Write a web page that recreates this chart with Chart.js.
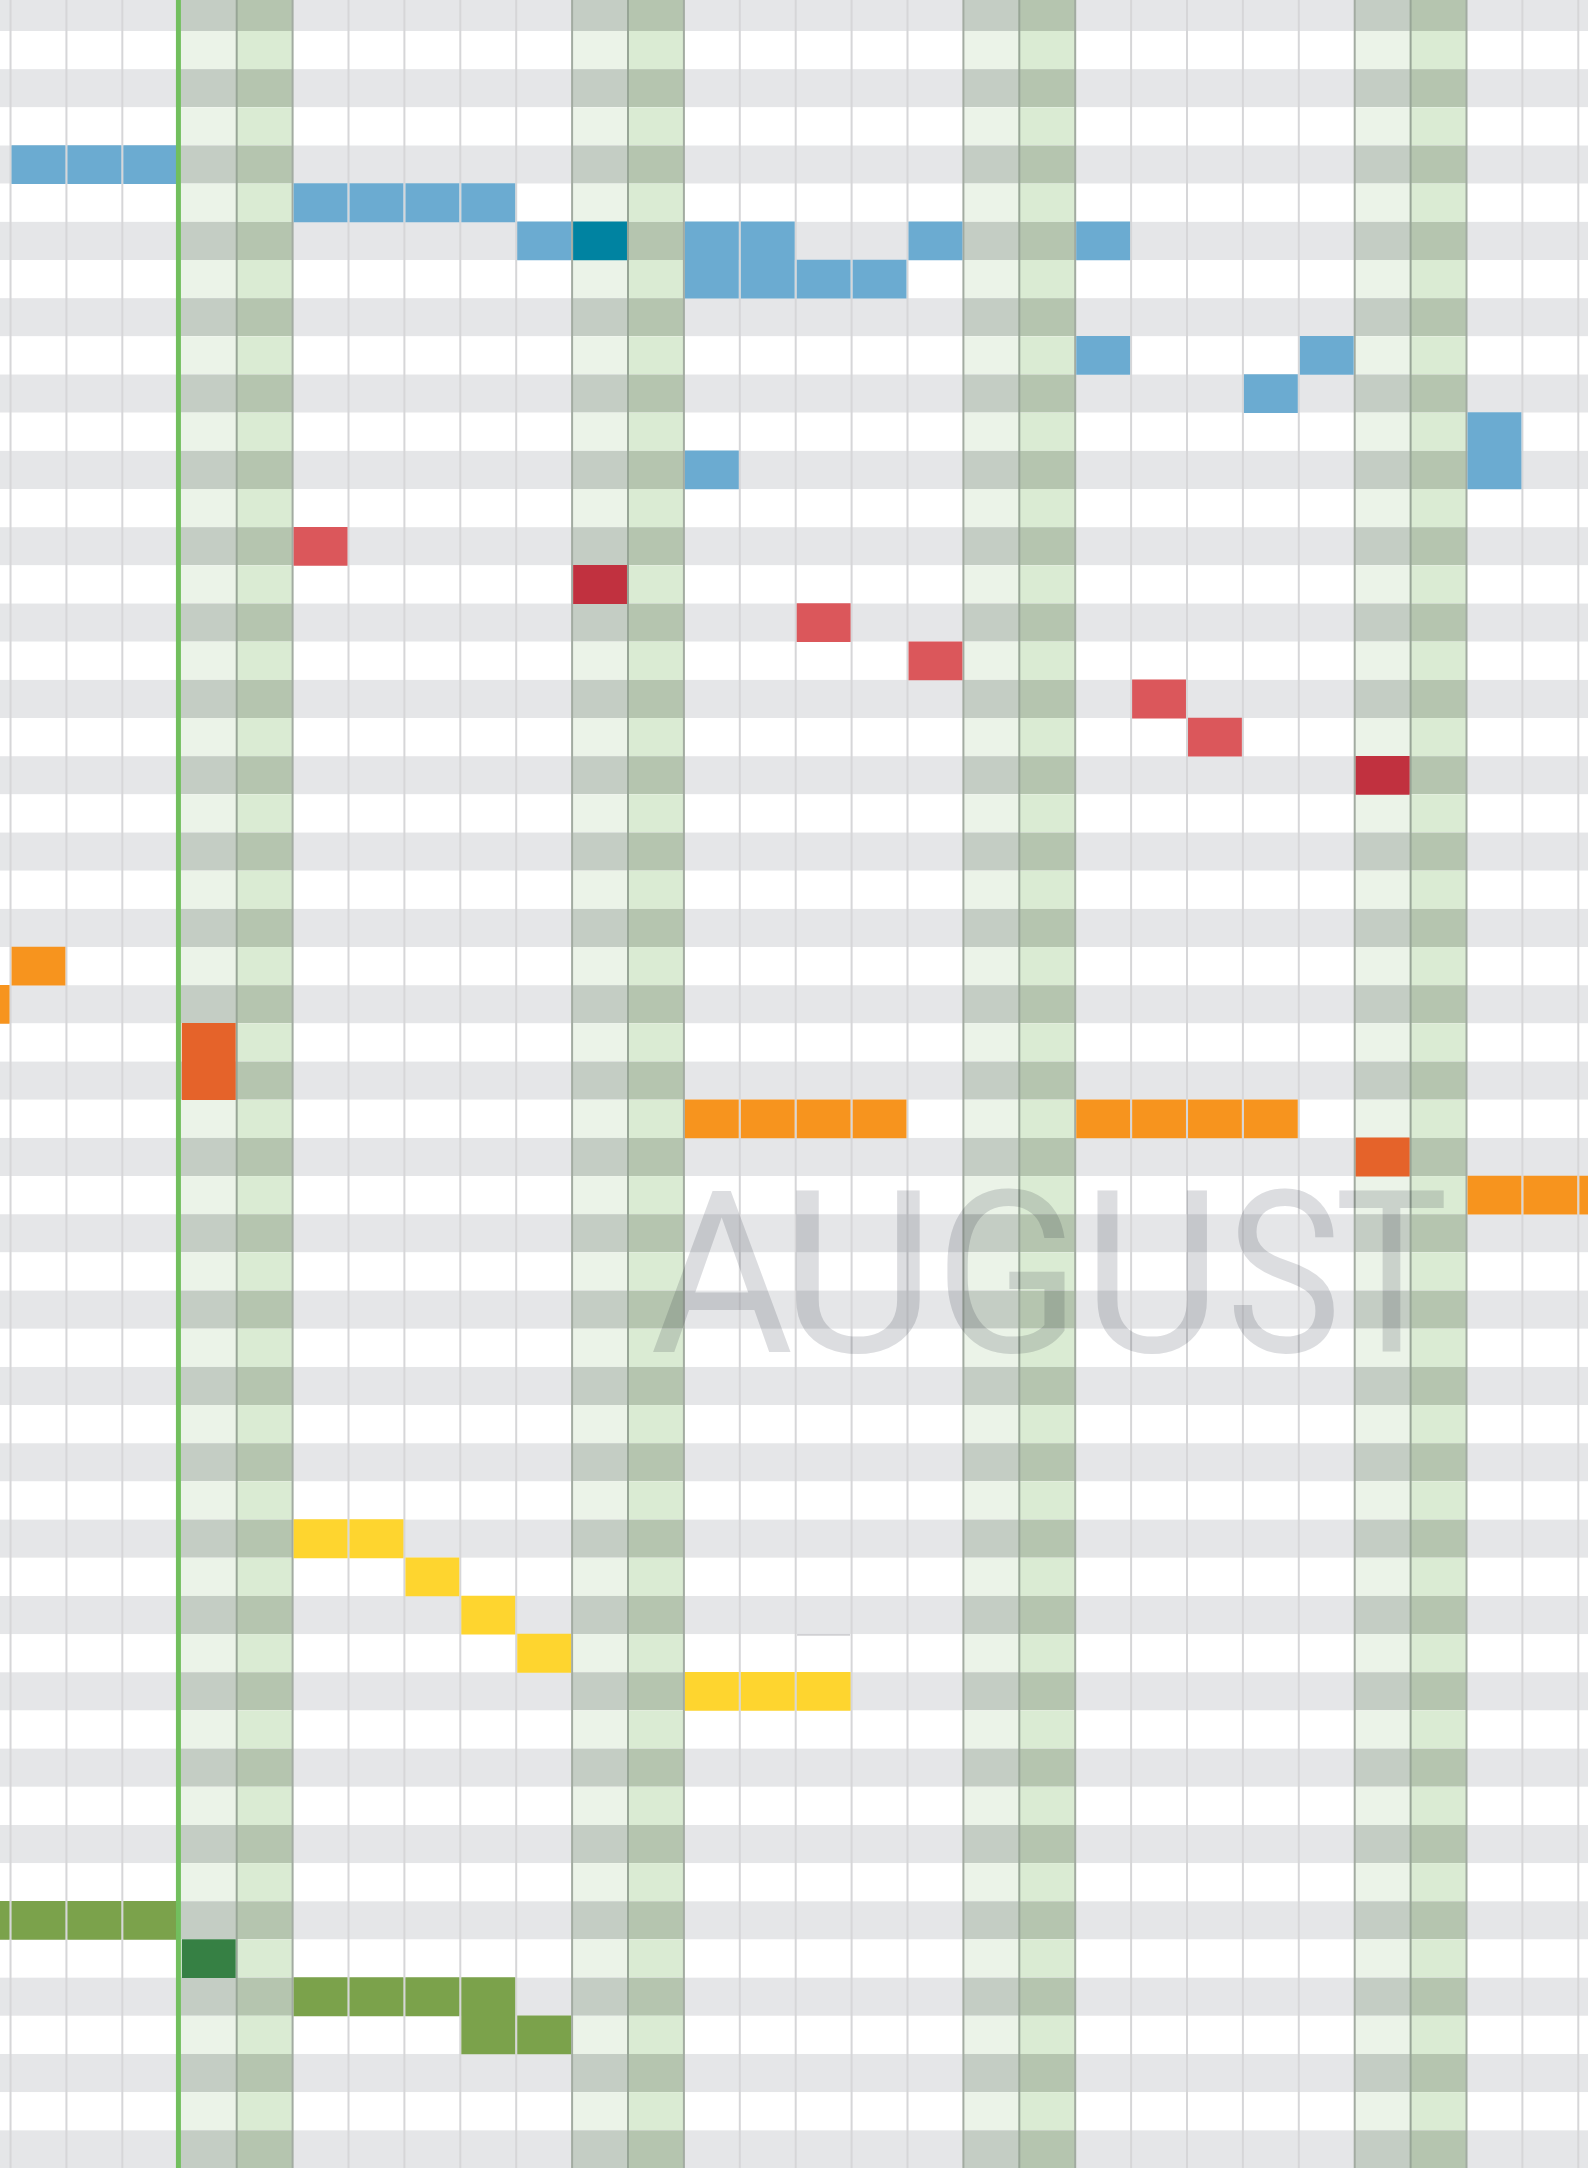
<!DOCTYPE html>
<html>
<head>
<meta charset="utf-8">
<title>August</title>
<script src="https://cdn.jsdelivr.net/npm/chart.js@4.4.1/dist/chart.umd.min.js"></script>
<style>
html, body { margin: 0; padding: 0; background: #fff; }
#wrap { width: 1588px; height: 2168px; }
</style>
</head>
<body>
<div id="wrap"><canvas id="grafico" width="1588" height="2168"></canvas></div>
<script>
// Columnas: un dia cada una
const days = ['Jul 28', 'Jul 29', 'Jul 30', 'Jul 31', 'Aug 1', 'Aug 2', 'Aug 3', 'Aug 4', 'Aug 5', 'Aug 6',
    'Aug 7', 'Aug 8', 'Aug 9', 'Aug 10', 'Aug 11', 'Aug 12', 'Aug 13', 'Aug 14', 'Aug 15', 'Aug 16',
    'Aug 17', 'Aug 18', 'Aug 19', 'Aug 20', 'Aug 21', 'Aug 22', 'Aug 23', 'Aug 24', 'Aug 25', 'Aug 26'];
const saturdays = ['Aug 1', 'Aug 8', 'Aug 15', 'Aug 22'];
const sundays = ['Aug 2', 'Aug 9', 'Aug 16', 'Aug 23'];
const todayMark = 'Aug 1';
const monthLabel = 'AUGUST';
const rowCount = 57;

// Celdas: [dia, fila, filas ocupadas]
const blueCells = [['Jul 29', 4], ['Jul 30', 4], ['Jul 31', 4],
    ['Aug 3', 5], ['Aug 4', 5], ['Aug 5', 5], ['Aug 6', 5],
    ['Aug 7', 6], ['Aug 10', 6, 2], ['Aug 11', 6, 2], ['Aug 14', 6], ['Aug 17', 6],
    ['Aug 12', 7], ['Aug 13', 7],
    ['Aug 17', 9], ['Aug 21', 9], ['Aug 20', 10], ['Aug 24', 11, 2], ['Aug 10', 12]];
const blueDarkCells = [['Aug 8', 6]];
const redCells = [['Aug 3', 14], ['Aug 12', 16], ['Aug 14', 17], ['Aug 18', 18], ['Aug 19', 19]];
const redDarkCells = [['Aug 8', 15], ['Aug 22', 20]];
const orangeCells = [['Jul 29', 25], ['Jul 28', 26],
    ['Aug 10', 29], ['Aug 11', 29], ['Aug 12', 29], ['Aug 13', 29],
    ['Aug 17', 29], ['Aug 18', 29], ['Aug 19', 29], ['Aug 20', 29],
    ['Aug 24', 31], ['Aug 25', 31], ['Aug 26', 31]];
const orangeDarkCells = [['Aug 1', 27, 2], ['Aug 22', 30]];
const yellowCells = [['Aug 3', 40], ['Aug 4', 40], ['Aug 5', 41], ['Aug 6', 42], ['Aug 7', 43],
    ['Aug 10', 44], ['Aug 11', 44], ['Aug 12', 44]];
const emptyCells = [['Aug 12', 43]];
const greenCells = [['Jul 28', 50], ['Jul 29', 50], ['Jul 30', 50], ['Jul 31', 50],
    ['Aug 3', 52], ['Aug 4', 52], ['Aug 5', 52], ['Aug 6', 52, 2], ['Aug 7', 53]];
const greenDarkCells = [['Aug 1', 51]];

// la marca de hoy ocupa un pequeno hueco entre columnas
const todayIndex = days.indexOf(todayMark);
const todayGap = 0.046;
function colPos(i) {
    return i + (i >= todayIndex ? todayGap : 0);
}

function toBars(cells) {
    return cells.map(([d, r, h = 1]) => ({ x: colPos(days.indexOf(d)) + 0.5, y: [r, r + h] }));
}

function cellSet(cells, color) {
    return {
        data: toBars(cells),
        backgroundColor: color,
        borderWidth: 0,
        barThickness: 53.2,
        grouped: false
    };
}

// Fondo: franjas, fines de semana, lineas y el mes
const calendarBg = {
    id: 'calendarBg',
    beforeDatasetsDraw(chart) {
        const ctx = chart.ctx;
        const xs = chart.scales.x;
        const ys = chart.scales.y;
        const W = chart.width;
        ctx.save();
        for (let r = 0; r < rowCount; r++) {
            const y0 = ys.getPixelForValue(r);
            const y1 = ys.getPixelForValue(r + 1);
            const grey = r % 2 === 0;
            ctx.fillStyle = grey ? '#e5e6e8' : '#ffffff';
            ctx.fillRect(0, y0, W, y1 - y0);
            saturdays.forEach(d => {
                const i = days.indexOf(d);
                const x0 = xs.getPixelForValue(colPos(i)), x1 = xs.getPixelForValue(colPos(i) + 1);
                ctx.fillStyle = grey ? '#c4cdc4' : '#ebf3e8';
                ctx.fillRect(x0, y0, x1 - x0, y1 - y0);
            });
            sundays.forEach(d => {
                const i = days.indexOf(d);
                const x0 = xs.getPixelForValue(colPos(i)), x1 = xs.getPixelForValue(colPos(i) + 1);
                ctx.fillStyle = grey ? '#b5c5af' : '#daebd3';
                ctx.fillRect(x0, y0, x1 - x0, y1 - y0);
            });
        }
        // lineas verticales
        for (let i = 0; i <= days.length; i++) {
            const left = days[i - 1], right = days[i];
            const x = i === todayIndex ? xs.getPixelForValue(i) : xs.getPixelForValue(colPos(i));
            let color = '#d6d6d8';
            if (saturdays.includes(left) && sundays.includes(right)) color = '#97a596';
            else if (saturdays.includes(right) || sundays.includes(left)) color = '#a2aba1';
            ctx.strokeStyle = color;
            ctx.lineWidth = 2;
            ctx.beginPath();
            ctx.moveTo(x, 0);
            ctx.lineTo(x, chart.height);
            ctx.stroke();
        }
        // nombre del mes, letra por letra
        const letterBoxes = [[653, 791], [796, 920], [947, 1065], [1097, 1207], [1233, 1334], [1339, 1444]];
        const baseline = 1352;
        ctx.font = '400 226px Roboto';
        ctx.textBaseline = 'alphabetic';
        ctx.globalCompositeOperation = 'multiply';
        ctx.fillStyle = '#dcdde0';
        monthLabel.split('').forEach((ch, k) => {
            const m = ctx.measureText(ch);
            const inkW = m.actualBoundingBoxLeft + m.actualBoundingBoxRight;
            const [l, r] = letterBoxes[k];
            ctx.save();
            ctx.translate(l, baseline);
            ctx.scale((r - l) / inkW, 1);
            ctx.fillText(ch, m.actualBoundingBoxLeft, 0);
            ctx.restore();
        });
        ctx.restore();
    },
    afterDatasetsDraw(chart) {
        const ctx = chart.ctx;
        const x = chart.scales.x.getPixelForValue(todayIndex);
        ctx.save();
        ctx.strokeStyle = '#72bf5e';
        ctx.lineWidth = 5;
        ctx.beginPath();
        ctx.moveTo(x + 0.2, 0);
        ctx.lineTo(x + 0.2, chart.height);
        ctx.stroke();
        ctx.restore();
    }
};

const colW = 55.9;
const rowH = 38.17;
const sundayLeft = 236.7; // pixel del borde izquierdo de Aug 2

const ctx = document.getElementById('grafico').getContext('2d');
const myChart = new Chart(ctx, {
    type: 'bar',
    data: {
        datasets: [
            cellSet(blueCells, '#6babd1'),
            cellSet(blueDarkCells, '#0083a1'),
            cellSet(redCells, '#db575b'),
            cellSet(redDarkCells, '#c1313f'),
            cellSet(orangeCells, '#f7941e'),
            cellSet(orangeDarkCells, '#e5632a'),
            cellSet(yellowCells, '#fed52f'),
            Object.assign(cellSet(emptyCells, '#ffffff'), {
                borderColor: '#d0d0d3',
                borderWidth: { top: 2, left: 0, right: 0, bottom: 0 },
                borderSkipped: false
            }),
            cellSet(greenCells, '#7ba24b'),
            cellSet(greenDarkCells, '#368044')
        ]
    },
    plugins: [calendarBg],
    options: {
        responsive: false,
        animation: false,
        devicePixelRatio: 1,
        events: [],
        layout: { padding: 0 },
        plugins: {
            legend: { display: false },
            tooltip: { enabled: false }
        },
        scales: {
            x: {
                type: 'linear',
                display: false,
                offset: false,
                bounds: 'data',
                min: colPos(todayIndex + 1) - sundayLeft / colW,
                max: colPos(todayIndex + 1) + (1588 - sundayLeft) / colW
            },
            y: {
                type: 'linear',
                display: false,
                reverse: true,
                bounds: 'data',
                min: 7.17 / rowH,
                max: (2168 + 7.17) / rowH
            }
        }
    }
});
</script>
</body>
</html>
